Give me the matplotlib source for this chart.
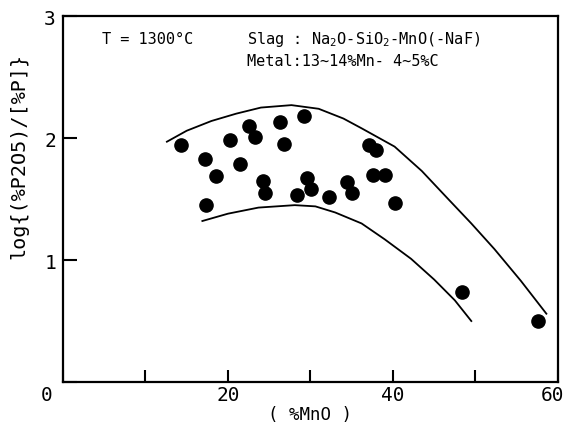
import numpy as np
from matplotlib import pyplot as plt
from matplotlib.transforms import ScaledTranslation

# measured points, (%MnO) vs log{(%P2O5)/[%P]}
mno = [14.3, 17.2, 18.6, 17.3, 20.2, 21.5, 22.5, 23.3, 24.3, 24.5,
       26.3, 26.8, 29.2, 28.4, 29.6, 30.1, 32.2, 34.4, 35.0, 37.1,
       37.9, 37.6, 39.0, 40.3, 48.4, 57.6]
log_p = [1.94, 1.83, 1.69, 1.45, 1.98, 1.79, 2.10, 2.01, 1.65, 1.55,
         2.13, 1.95, 2.18, 1.53, 1.67, 1.58, 1.52, 1.64, 1.55, 1.94,
         1.90, 1.70, 1.70, 1.47, 0.74, 0.50]

# hand drawn envelope curves
upper_x = [12.6, 15.0, 18.0, 21.0, 24.0, 27.7, 31.0, 34.0, 36.2, 40.2,
           43.5, 46.7, 49.5, 52.3, 55.5, 58.6]
upper_y = [1.97, 2.06, 2.14, 2.20, 2.25, 2.27, 2.24, 2.16, 2.08, 1.93,
           1.73, 1.50, 1.30, 1.09, 0.83, 0.56]
lower_x = [16.9, 20.0, 23.7, 28.1, 30.6, 33.0, 36.2, 39.0, 42.2, 45.0,
           47.5, 49.5]
lower_y = [1.32, 1.38, 1.43, 1.45, 1.44, 1.39, 1.30, 1.17, 1.01, 0.84,
           0.67, 0.50]

x_ticks = [0, 20, 40, 60]
x_minor = [10, 30, 50]
y_ticks = [0, 1, 2, 3]
y_tick_labels = ["", "1", "2", "3"]

plt.rcParams["font.family"] = ["DejaVu Sans Mono"]
plt.rcParams["mathtext.fontset"] = "custom"
plt.rcParams["mathtext.rm"] = "DejaVu Sans Mono"
plt.rcParams["mathtext.default"] = "rm"


def main():
    fig = plt.figure(figsize=(5.67, 4.27), dpi=100)
    ax = fig.add_axes([0.111, 0.103, 0.873, 0.857])

    ax.plot(upper_x, upper_y, color="black", lw=1.3)
    ax.plot(lower_x, lower_y, color="black", lw=1.3)
    ax.plot(mno, log_p, "o", color="black", ms=9.5)

    ax.set_xlim(0, 60)
    ax.set_ylim(0, 3)
    ax.set_xticks(x_ticks)
    ax.set_xticks(x_minor, minor=True)
    ax.set_yticks(y_ticks)
    ax.set_yticklabels(y_tick_labels)
    ax.tick_params(axis="both", which="both", direction="in", width=1.5,
                   labelsize=14)
    ax.tick_params(axis="x", which="both", length=8.5, pad=2)
    ax.tick_params(axis="y", length=10, pad=5)
    for sp in ax.spines.values():
        sp.set_linewidth(1.6)

    # the corner "0" sits left of the spine, "60" pulled in a little
    labels = ax.get_xticklabels()
    labels[0].set_transform(labels[0].get_transform()
                            + ScaledTranslation(-12 / 72, 0, fig.dpi_scale_trans))
    labels[-1].set_transform(labels[-1].get_transform()
                             + ScaledTranslation(-4 / 72, 0, fig.dpi_scale_trans))

    ax.set_xlabel("( %MnO )", fontsize=12.5, labelpad=1)
    ax.set_ylabel("log{(%P2O5)/[%P]}", fontsize=14.5)
    ax.yaxis.set_label_coords(-0.07, 0.62)

    ax.text(4.7, 2.78, "T = 1300°C", fontsize=11)
    ax.text(22.3, 2.78, "Slag : Na$_2$O-SiO$_2$-MnO(-NaF)", fontsize=11)
    ax.text(22.3, 2.60, "Metal:13~14%Mn- 4~5%C", fontsize=11)

    fig.savefig("out.png", dpi=100)


if __name__ == "__main__":
    main()
